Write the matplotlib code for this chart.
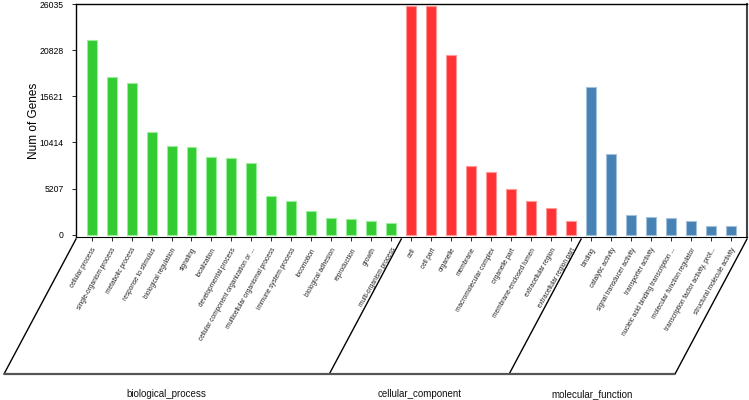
import numpy as np
import matplotlib
matplotlib.use("Agg")
import matplotlib.pyplot as plt

plt.rcParams['font.family'] = ['Liberation Sans', 'DejaVu Sans']

bp_terms = ["cellular process", "single-organism process", "metabolic process",
            "response to stimulus", "biological regulation", "signaling",
            "localization", "developmental process",
            "cellular component organization or ...",
            "multicellular organismal process", "immune system process",
            "locomotion", "biological adhesion", "reproduction", "growth",
            "multi-organism process"]
bp_counts = [21980, 17840, 17090, 11570, 10030, 9920, 8790, 8640, 8110,
             4320, 3790, 2670, 1920, 1770, 1580, 1320]

cc_terms = ["cell", "cell part", "organelle", "membrane",
            "macromolecular complex", "organelle part",
            "membrane-enclosed lumen", "extracellular region",
            "extracellular region part"]
cc_counts = [25850, 25770, 20290, 7740, 7100, 5180, 3830, 2970, 1580]

mf_terms = ["binding", "catalytic activity", "signal transducer activity",
            "transporter activity", "nucleic acid binding transcription ...",
            "molecular function regulator",
            "transcription factor activity, prot...",
            "structural molecule activity"]
mf_counts = [16640, 9090, 2220, 1990, 1880, 1580, 1010, 980]

group_names = ["biological_process", "cellular_component", "molecular_function"]
group_colors = ["#33CC33", "#FF3333", "#4682B4"]
group_edges = ["#99EE99", "#FF9999", "#A3C1DA"]
yticks = [0, 5207, 10414, 15621, 20828, 26035]

W, H = 749, 400
fig = plt.figure(figsize=(W / 100, H / 100), dpi=100)
ax_l, ax_r, ax_b, ax_t = 76, 747, 163, 396
ax = fig.add_axes([ax_l / W, ax_b / H, (ax_r - ax_l) / W, (ax_t - ax_b) / H])

groups = [(bp_terms, bp_counts), (cc_terms, cc_counts), (mf_terms, mf_counts)]
labels, pos = [], []
start = 0
bounds = [-0.5]
for (terms, counts), c, ec in zip(groups, group_colors, group_edges):
    x = np.arange(start, start + len(terms))
    ax.bar(x, counts, width=0.5, color=c, edgecolor=ec, linewidth=0.8, zorder=2)
    labels += terms
    pos += list(x)
    start += len(terms)
    bounds.append(start - 0.5)

n = len(labels)
xlo, xhi = -0.78, n - 1 + 0.8
ax.set_xlim(xlo, xhi)
ax.set_ylim(-250, yticks[-1])
ax.set_yticks(yticks)
ax.set_yticklabels([str(v) for v in yticks], fontsize=6.2)
ax.set_xticks(pos)
ax.set_xticklabels(labels, rotation=60, ha='right', va='top',
                   rotation_mode='anchor', fontsize=4.7, color='#222222')
ax.tick_params(axis='x', length=3, width=0.6, pad=4)
ax.tick_params(axis='y', length=3, width=0.6, pad=6)
ax.set_ylabel("Num of Genes", fontsize=8.5)
ax.yaxis.set_label_coords(-0.054, 0.5)
for s in ['top', 'left']:
    ax.spines[s].set_linewidth(1.0)
ax.spines['right'].set_color('#444444')
ax.spines['right'].set_linewidth(1.5)
ax.spines['bottom'].set_linewidth(0.8)

# group brackets below the axis (skewed)
px_per_x = (ax_r - ax_l) / (xhi - xlo)
px_per_y = ax_t - ax_b
dx_px, dy_px = 72, 135
trans = matplotlib.transforms.blended_transform_factory(ax.transData, ax.transAxes)
y0 = -2 / px_per_y
y1 = y0 - dy_px / px_per_y
bounds[0] = xlo
bounds[-1] = xhi
ends = []
for b in bounds:
    xe = b - dx_px / px_per_x
    ax.plot([b, xe], [y0, y1], color='black', lw=1.0, transform=trans,
            clip_on=False)
    ends.append(xe)
ax.plot([ends[0], ends[-1]], [y1, y1], color='#555555', lw=1.6,
        transform=trans, clip_on=False, solid_capstyle='butt')
for i, name in enumerate(group_names):
    xm = (ends[i] + ends[i + 1]) / 2
    ax.text(xm, y1 - 20 / px_per_y, name, transform=trans, ha='center',
            va='center', fontsize=7, color='#111111')

fig.savefig("out.png", dpi=100)
